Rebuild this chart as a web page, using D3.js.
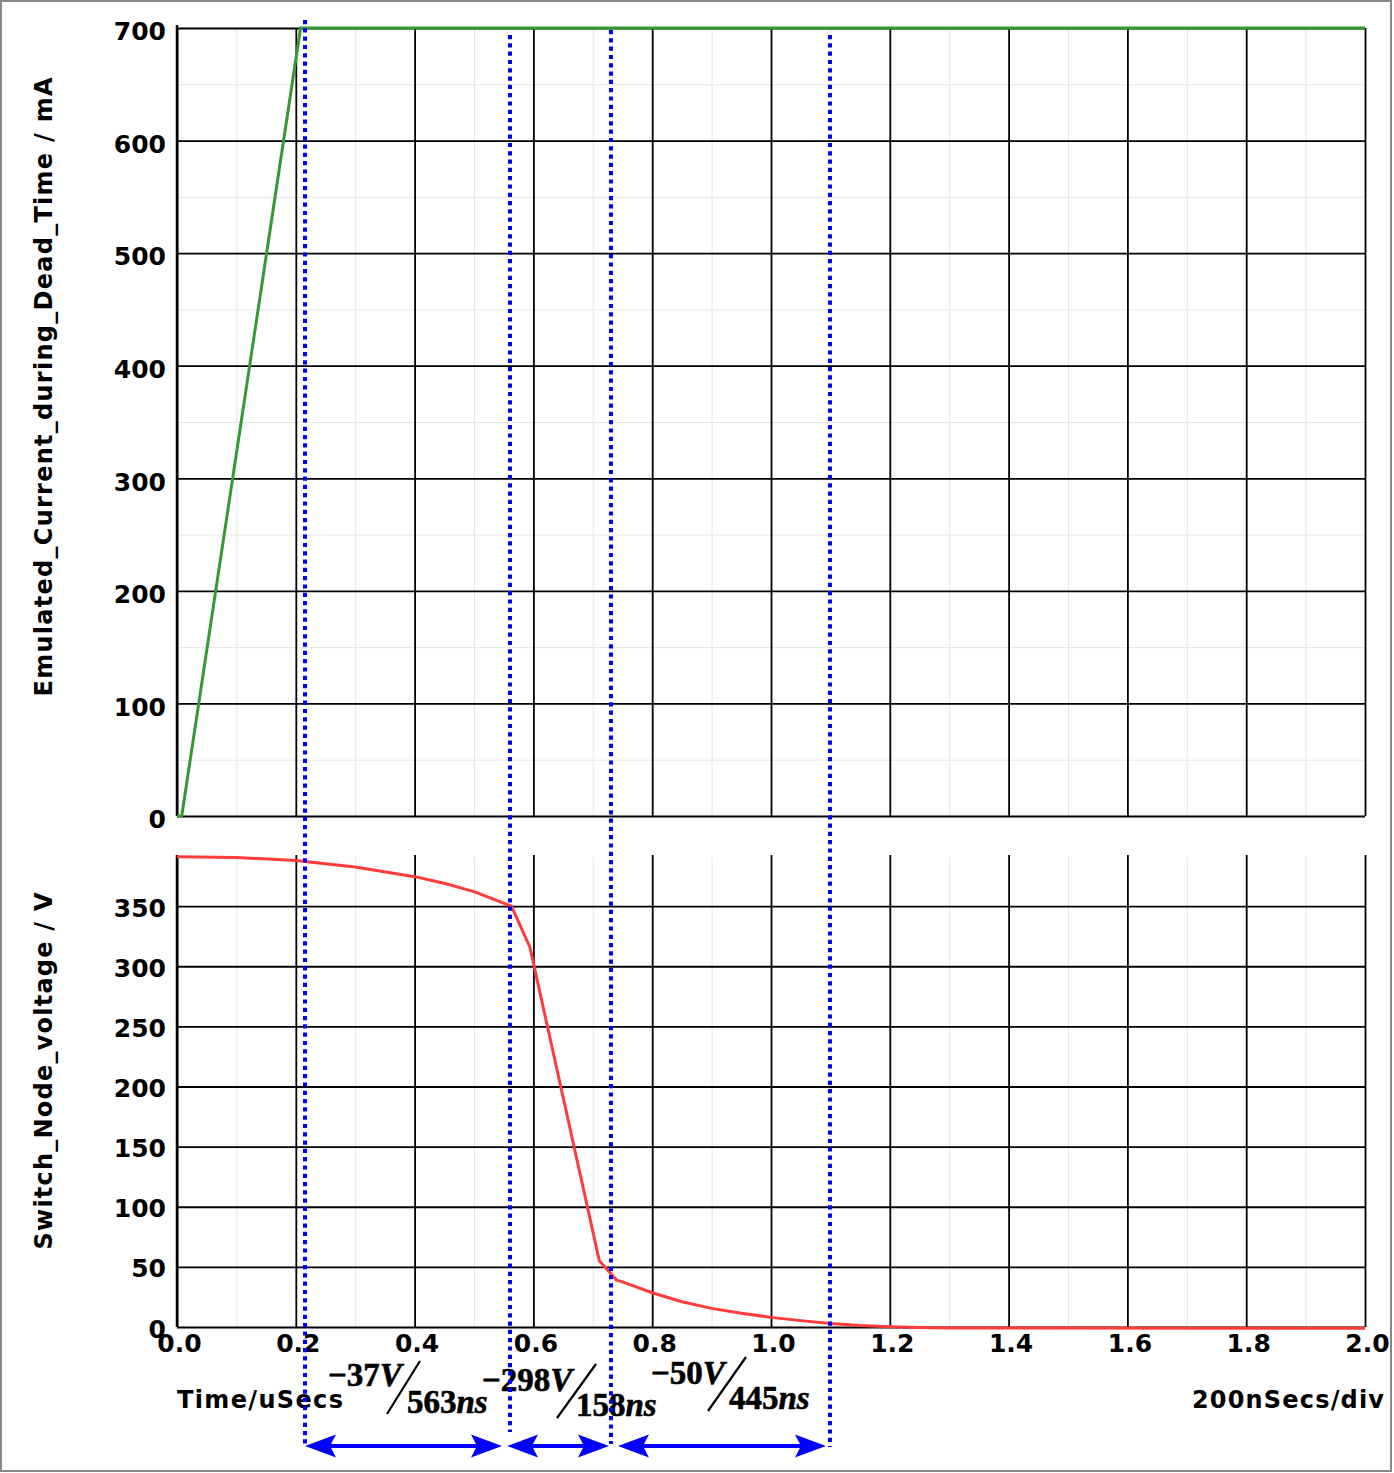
<!DOCTYPE html>
<meta charset="utf-8">
<script src="https://d3js.org/d3.v7.min.js"></script>
<style>
  body { margin: 0; background: #fff; }
  .tick text { font-family: "DejaVu Sans", Verdana, sans-serif; font-weight: bold; font-size: 25px; fill: #000; }
  .ttl { font-family: "DejaVu Sans", Verdana, sans-serif; font-weight: bold; font-size: 24px; fill: #000; }
  .ann { font-family: "Liberation Serif", "Times New Roman", serif; font-weight: bold; font-size: 33px; fill: #000;
         stroke: #000; stroke-width: 0.6px; }
</style>
<div id="chart"></div>
<script>

// ---- datos ----
var timeTicks   = [0, 0.2, 0.4, 0.6, 0.8, 1.0, 1.2, 1.4, 1.6, 1.8, 2.0];
var timeLabels  = ["0.0", "0.2", "0.4", "0.6", "0.8", "1.0", "1.2", "1.4", "1.6", "1.8", "2.0"];
var timeMinor   = [0.1, 0.3, 0.5, 0.7, 0.9, 1.1, 1.3, 1.5, 1.7, 1.9];
var currTicks   = [0, 100, 200, 300, 400, 500, 600, 700];
var currMinor   = [50, 150, 250, 350, 450, 550, 650];
var voltTicks   = [0, 50, 100, 150, 200, 250, 300, 350];

// corriente emulada (mA)
var currT  = [0, 0.008, 0.208, 2.0];
var currMA = [0, 0, 700, 700];

// tension del nodo de conmutacion (V)
var voltT = [0, 0.1, 0.2, 0.3, 0.4, 0.45, 0.5, 0.563, 0.594, 0.711, 0.74, 0.75, 0.8, 0.85,
             0.9, 0.95, 1.0, 1.05, 1.1, 1.15, 1.2, 1.25, 1.3, 2.0];
var voltV = [391, 390.5, 388, 382.5, 374.5, 369, 362, 350, 316, 55, 39, 37.5, 28.5, 21,
             15.5, 11.5, 8, 5.3, 3, 1.3, 0.3, -0.5, -0.8, -1];

// marcadores verticales (us) y textos de pendiente
var markerT   = [0.2155, 0.5606, 0.7306, 1.0993];
var slopeNum  = ["\u221237", "\u2212298", "\u221250"];
var slopeDen  = ["563", "158", "445"];

// ---- lienzo ----
var W = 1394, H = 1473;
var svg = d3.select("#chart").append("svg")
  .attr("width", W).attr("height", H);

svg.append("rect").attr("x", 1).attr("y", 1).attr("width", W - 4).attr("height", H - 3)
  .attr("fill", "#fff").attr("stroke", "#888").attr("stroke-width", 2);

var x    = d3.scaleLinear().domain([0, 2]).range([177, 1365]);
var yTop = d3.scaleLinear().domain([0, 700]).range([816, 28]);
var yBot = d3.scaleLinear().domain([0, 392.5]).range([1327, 855]);

function clean(g) { g.select(".domain").remove(); }

// ---- rejilla menor ----
svg.append("g").attr("transform", "translate(0," + yTop(0) + ")")
  .call(d3.axisBottom(x).tickValues(timeMinor).tickSize(-(yTop(0) - yTop(700))).tickFormat(""))
  .call(clean).selectAll("line").attr("stroke", "#e6e6e6").attr("stroke-width", 1);
svg.append("g").attr("transform", "translate(" + x(0) + ",0)")
  .call(d3.axisLeft(yTop).tickValues(currMinor).tickSize(-(x(2) - x(0))).tickFormat(""))
  .call(clean).selectAll("line").attr("stroke", "#e6e6e6").attr("stroke-width", 1);
svg.append("g").attr("transform", "translate(0," + yBot(0) + ")")
  .call(d3.axisBottom(x).tickValues(timeMinor).tickSize(-(yBot(0) - yBot(391))).tickFormat(""))
  .call(clean).selectAll("line").attr("stroke", "#e6e6e6").attr("stroke-width", 1);

// ---- rejilla mayor ----
svg.append("g").attr("transform", "translate(0," + yTop(0) + ")")
  .call(d3.axisBottom(x).tickValues(timeTicks).tickSize(-(yTop(0) - yTop(700))).tickFormat(""))
  .call(clean).selectAll("line").attr("stroke", "#000").attr("stroke-width", 1.8);
svg.append("g").attr("transform", "translate(" + x(0) + ",0)")
  .call(d3.axisLeft(yTop).tickValues(currTicks).tickSize(-(x(2) - x(0))).tickFormat(""))
  .call(clean).selectAll("line").attr("stroke", "#000").attr("stroke-width", 1.8);
svg.append("g").attr("transform", "translate(0," + yBot(0) + ")")
  .call(d3.axisBottom(x).tickValues(timeTicks).tickSize(-(yBot(0) - yBot(392.5))).tickFormat(""))
  .call(clean).selectAll("line").attr("stroke", "#000").attr("stroke-width", 1.8);
svg.append("g").attr("transform", "translate(" + x(0) + ",0)")
  .call(d3.axisLeft(yBot).tickValues(voltTicks).tickSize(-(x(2) - x(0))).tickFormat(""))
  .call(clean).selectAll("line").attr("stroke", "#000").attr("stroke-width", 1.8);

// ejes izquierdos
svg.append("line").attr("x1", x(0)).attr("x2", x(0))
  .attr("y1", yTop(700) - 3).attr("y2", yTop(0))
  .attr("stroke", "#000").attr("stroke-width", 2.5);
svg.append("line").attr("x1", x(0)).attr("x2", x(0))
  .attr("y1", yBot(392.5)).attr("y2", yBot(0))
  .attr("stroke", "#000").attr("stroke-width", 2.5);

// ---- etiquetas ----
svg.append("g").attr("transform", "translate(" + x(0) + ",0)")
  .call(d3.axisLeft(yTop).tickValues(currTicks).tickSize(0).tickPadding(11))
  .call(clean).selectAll("text").attr("dy", "0.47em");
svg.append("g").attr("transform", "translate(" + x(0) + ",0)")
  .call(d3.axisLeft(yBot).tickValues(voltTicks).tickSize(0).tickPadding(11))
  .call(clean).selectAll("text").attr("dy", "0.4em");
svg.append("g").attr("transform", "translate(0," + yBot(0) + ")")
  .call(d3.axisBottom(x).tickValues(timeTicks).tickSize(0).tickPadding(7)
    .tickFormat(function(d, i) { return timeLabels[i]; }))
  .call(clean).selectAll("text").attr("dx", "2");

// ---- curvas ----
var lineTop = d3.line().x(function(d, i) { return x(currT[i]); }).y(function(d) { return yTop(d); });
svg.append("path").attr("d", lineTop(currMA))
  .attr("fill", "none").attr("stroke", "#339933").attr("stroke-width", 3);

var lineBot = d3.line().x(function(d, i) { return x(voltT[i]); }).y(function(d) { return yBot(d); });
svg.append("path").attr("d", lineBot(voltV))
  .attr("fill", "none").attr("stroke", "#ff3b3b").attr("stroke-width", 3);

// ---- titulos ----
svg.append("text").attr("class", "ttl")
  .attr("transform", "translate(52,387) rotate(-90)")
  .attr("text-anchor", "middle")
  .attr("textLength", 619).attr("lengthAdjust", "spacing")
  .text("Emulated_Current_during_Dead_Time / mA");
svg.append("text").attr("class", "ttl")
  .attr("transform", "translate(52,1071) rotate(-90)")
  .attr("text-anchor", "middle")
  .attr("textLength", 357).attr("lengthAdjust", "spacing")
  .text("Switch_Node_voltage / V");
svg.append("text").attr("class", "ttl")
  .attr("x", 177).attr("y", 1408)
  .attr("textLength", 166).attr("lengthAdjust", "spacing")
  .text("Time/uSecs");
svg.append("text").attr("class", "ttl")
  .attr("x", 1192).attr("y", 1408)
  .attr("textLength", 192).attr("lengthAdjust", "spacing")
  .text("200nSecs/div");

// ---- anotaciones de pendiente ----
var annPos = [
  {nx: 328, ny: 1386, sx1: 420, sy1: 1361, sx2: 387, sy2: 1414, dx: 407, dy: 1413},
  {nx: 482, ny: 1391, sx1: 596, sy1: 1364, sx2: 557, sy2: 1418, dx: 576, dy: 1416},
  {nx: 651, ny: 1384, sx1: 746, sy1: 1357, sx2: 708, sy2: 1411, dx: 729, dy: 1409}
];
annPos.forEach(function(p, i) {
  var num = svg.append("text").attr("class", "ann").attr("x", p.nx).attr("y", p.ny);
  num.append("tspan").text(slopeNum[i]);
  num.append("tspan").attr("font-style", "italic").text("V");
  svg.append("line").attr("x1", p.sx1).attr("y1", p.sy1).attr("x2", p.sx2).attr("y2", p.sy2)
    .attr("stroke", "#000").attr("stroke-width", 2.2);
  var den = svg.append("text").attr("class", "ann").attr("x", p.dx).attr("y", p.dy);
  den.append("tspan").text(slopeDen[i]);
  den.append("tspan").attr("font-style", "italic").text("ns");
});

// ---- lineas punteadas azules ----
var dotTop = [20, 35, 30, 35], dotBot = [1447, 1432, 1444, 1447];
markerT.forEach(function(t, i) {
  svg.append("line").attr("x1", x(t)).attr("x2", x(t))
    .attr("y1", dotTop[i]).attr("y2", dotBot[i])
    .attr("stroke", "#0000ff").attr("stroke-width", 4)
    .attr("stroke-dasharray", "4.2 4.1");
});

// ---- flechas dobles ----
function headPath(tipX, y, dir) {
  // dir = +1 punta hacia la derecha, -1 hacia la izquierda
  var L = 31, h = 11.5, n = 25;
  return "M" + tipX + "," + y +
    "L" + (tipX - dir * L) + "," + (y - h) +
    "L" + (tipX - dir * n) + "," + y +
    "L" + (tipX - dir * L) + "," + (y + h) + "Z";
}
var arrowY = 1446;
var arrowSpans = [[x(markerT[0]), x(markerT[1]) - 8], [x(markerT[1]) - 3, x(markerT[2]) - 2],
                  [x(markerT[2]) + 7, x(markerT[3]) - 4]];
arrowSpans.forEach(function(s) {
  svg.append("line").attr("x1", s[0] + 20).attr("x2", s[1] - 20)
    .attr("y1", arrowY).attr("y2", arrowY)
    .attr("stroke", "#0000ff").attr("stroke-width", 4);
  svg.append("path").attr("d", headPath(s[0], arrowY, -1)).attr("fill", "#0000ff");
  svg.append("path").attr("d", headPath(s[1], arrowY, 1)).attr("fill", "#0000ff");
});

</script>
